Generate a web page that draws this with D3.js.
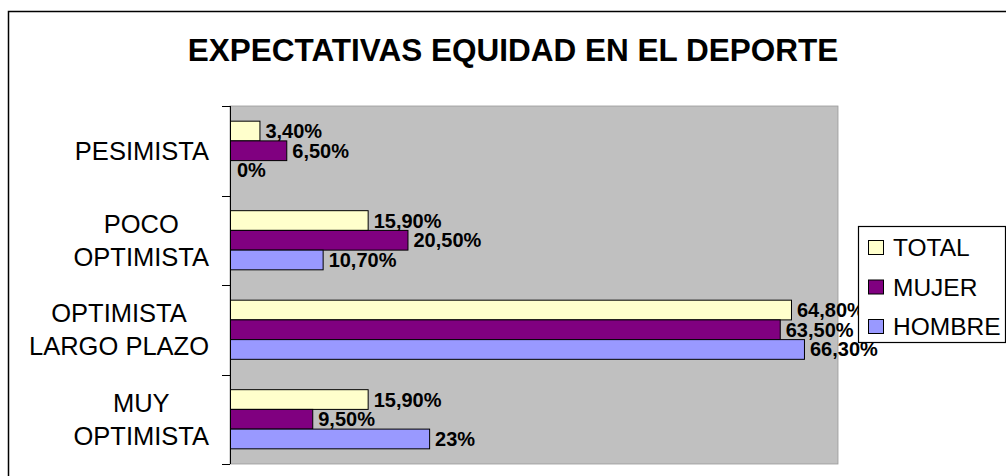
<!DOCTYPE html>
<html>
<head>
<meta charset="utf-8">
<script src="https://cdnjs.cloudflare.com/ajax/libs/d3/7.8.5/d3.min.js"></script>
<style>
  html, body { margin: 0; padding: 0; background: #fff; }
  svg { display: block; font-family: Arial, "Liberation Sans", sans-serif; }
</style>
</head>
<body>
<div id="chart"></div>
<script>
var categories = ["PESIMISTA", "POCO OPTIMISTA", "OPTIMISTA LARGO PLAZO", "MUY OPTIMISTA"];
var categoryLines = [["PESIMISTA"], ["POCO", "OPTIMISTA"], ["OPTIMISTA", "LARGO PLAZO"], ["MUY", "OPTIMISTA"]];
var series = ["TOTAL", "MUJER", "HOMBRE"];
var total = [3.4, 15.9, 64.8, 15.9];
var mujer = [6.5, 20.5, 63.5, 9.5];
var hombre = [0, 10.7, 66.3, 23];
var colors = ["#FFFFCC", "#800080", "#9999FF"];

var w = 1006, h = 476;
var values = [total, mujer, hombre];

var svg = d3.select("#chart").append("svg").attr("width", w).attr("height", h);

// marco del grafico
svg.append("rect").attr("x", 8.5).attr("y", 11.5).attr("width", w + 20).attr("height", h + 20)
  .attr("fill", "#fff").attr("stroke", "#000").attr("stroke-width", 1.5);

svg.append("text").attr("x", 513).attr("y", 61).attr("text-anchor", "middle")
  .attr("font-size", 31.5).attr("font-weight", "bold").text("EXPECTATIVAS EQUIDAD EN EL DEPORTE");

var plotLeft = 230, plotTop = 106, plotW = 608, plotH = 358;

var x = d3.scaleLinear().domain([0, 70]).range([plotLeft, plotLeft + 606]);
var y = d3.scaleBand().domain(categories).range([plotTop, plotTop + plotH]);
var y1 = d3.scaleBand().domain(series).range([0, y.bandwidth()]).paddingOuter(0.77);

svg.append("rect").attr("x", plotLeft).attr("y", plotTop).attr("width", plotW).attr("height", plotH)
  .attr("fill", "#C0C0C0").attr("stroke", "#9a9a9a").attr("stroke-width", 0.8);

// eje vertical con marcas entre categorias
var axis = svg.append("g");
axis.append("line").attr("x1", plotLeft + 0.5).attr("x2", plotLeft + 0.5).attr("y1", plotTop).attr("y2", plotTop + plotH)
  .attr("stroke", "#000");
var edges = categories.map(function (c) { return y(c); }).concat([plotTop + plotH]);
axis.selectAll("line.tick").data(edges).enter().append("line").attr("class", "tick")
  .attr("x1", plotLeft - 8).attr("x2", plotLeft).attr("y1", function (d) { return Math.round(d) + 0.5; })
  .attr("y2", function (d) { return Math.round(d) + 0.5; }).attr("stroke", "#000");

// etiquetas de categorias (centradas en bloque, alineadas a la derecha)
categories.forEach(function (c, i) {
  var lines = categoryLines[i];
  var cy = y(c) + y.bandwidth() / 2;
  var lh = 33;
  var t = svg.append("text").attr("font-size", 25.5).attr("text-anchor", "middle");
  lines.forEach(function (l, j) {
    t.append("tspan").attr("x", 0).attr("y", cy + 9 + (j - (lines.length - 1) / 2) * lh).text(l);
  });
  var maxW = 0;
  t.selectAll("tspan").each(function () { maxW = Math.max(maxW, this.getComputedTextLength()); });
  t.selectAll("tspan").attr("x", 209 - maxW / 2);
});

function fmt(v) {
  if (v === Math.round(v)) return v + "%";
  return v.toFixed(2).replace(".", ",") + "%";
}

series.forEach(function (s, k) {
  var g = svg.append("g");
  var rows = categories.map(function (c, i) { return { c: c, v: values[k][i] }; });
  g.selectAll("rect").data(rows).enter().append("rect")
    .attr("x", x(0) + 0.5)
    .attr("y", function (d) { return y(d.c) + y1(s); })
    .attr("width", function (d) { return Math.max(0, x(d.v) - x(0)); })
    .attr("height", y1.bandwidth())
    .attr("fill", colors[k])
    .attr("stroke", function (d) { return d.v > 0 ? "#000" : "none"; })
    .attr("stroke-width", 1);
  g.selectAll("text").data(rows).enter().append("text")
    .attr("x", function (d) { return x(d.v) + (d.v > 0 ? 6 : 7); })
    .attr("y", function (d) { return y(d.c) + y1(s) + y1.bandwidth() / 2 + 7; })
    .attr("font-size", 20).attr("font-weight", "bold")
    .text(function (d) { return fmt(d.v); });
});

// leyenda
var lg = svg.append("g");
lg.append("rect").attr("x", 858.5).attr("y", 226.5).attr("width", 147).attr("height", 116)
  .attr("fill", "#fff").attr("stroke", "#000").attr("stroke-width", 1.2);
series.forEach(function (s, k) {
  var yy = 256 + k * 39.5;
  lg.append("rect").attr("x", 868.5).attr("y", yy - 15.5).attr("width", 15).attr("height", 14)
    .attr("fill", colors[k]).attr("stroke", "#000");
  lg.append("text").attr("x", 893).attr("y", yy).attr("font-size", 24.5).text(s);
});
</script>
</body>
</html>
